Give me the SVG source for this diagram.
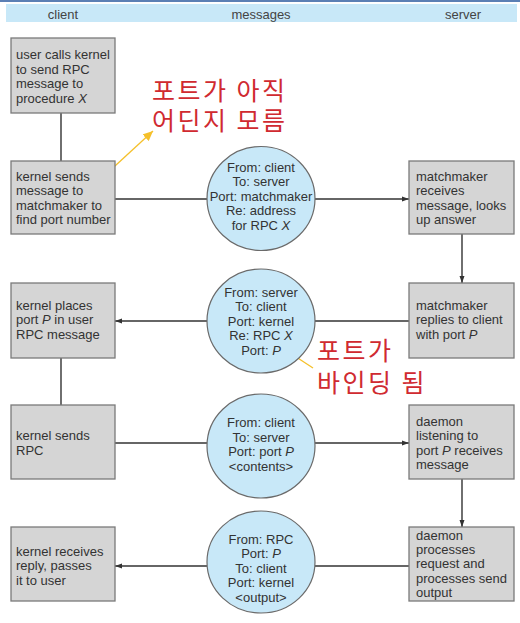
<svg xmlns="http://www.w3.org/2000/svg" width="520" height="623" viewBox="0 0 520 623">
<style>
.box{fill:#d5d5d5;stroke:#7a7a7a;stroke-width:1.3}
.msg{fill:#c8e8f8;stroke:#6a6a6a;stroke-width:1.2}
.t{font-family:"Liberation Sans",Arial,sans-serif;font-size:13px;fill:#333}
.c{text-anchor:middle}
.h{font-family:"Liberation Sans",Arial,sans-serif;font-size:13px;fill:#444;text-anchor:middle}
.conn{stroke:#333;stroke-width:1.4;fill:none}
.note{font-family:"Noto Sans CJK KR","Noto Sans",sans-serif;font-size:25px;letter-spacing:2.5px;fill:#d02a30}
.ya{stroke:#f5c02a;stroke-width:1.3;fill:none}
.i{font-style:italic}
</style>
<defs>
<marker id="ah" markerWidth="8" markerHeight="6" refX="7" refY="3" orient="auto" markerUnits="userSpaceOnUse">
<path d="M0,0.5 L7,3 L0,5.5 Z" fill="#333"/>
</marker>
<marker id="yh" markerWidth="12" markerHeight="10" refX="10" refY="5" orient="auto" markerUnits="userSpaceOnUse">
<path d="M0,0.5 L10,5 L0,9.5 Z" fill="#f5c02a"/>
</marker>
</defs>
<rect x="0" y="0" width="520" height="623" fill="#fff"/>
<g id="header">
<rect x="0" y="0" width="520" height="2" fill="#5b7fb4"/>
<rect x="6" y="4" width="511" height="18" fill="#c8e8f8"/>
<text class="h" x="63" y="18.5">client</text>
<text class="h" x="261" y="18.5">messages</text>
<text class="h" x="463" y="18.5">server</text>
</g>
<g id="connectors">
<line class="conn" x1="61" y1="113" x2="61" y2="161"/>
<line class="conn" x1="115" y1="199" x2="207" y2="199"/>
<line class="conn" x1="315" y1="199" x2="409" y2="199" marker-end="url(#ah)"/>
<line class="conn" x1="462" y1="234" x2="462" y2="283" marker-end="url(#ah)"/>
<line class="conn" x1="409" y1="321" x2="315" y2="321"/>
<line class="conn" x1="207" y1="321" x2="115" y2="321" marker-end="url(#ah)"/>
<line class="conn" x1="61" y1="358" x2="61" y2="405"/>
<line class="conn" x1="115" y1="443" x2="207" y2="443"/>
<line class="conn" x1="315" y1="443" x2="409" y2="443" marker-end="url(#ah)"/>
<line class="conn" x1="462" y1="479" x2="462" y2="527" marker-end="url(#ah)"/>
<line class="conn" x1="409" y1="566" x2="315" y2="566"/>
<line class="conn" x1="207" y1="566" x2="115" y2="566" marker-end="url(#ah)"/>
<line class="ya" x1="103" y1="177" x2="153" y2="131" marker-end="url(#yh)"/>
<line class="ya" x1="313" y1="368" x2="284" y2="349" marker-end="url(#yh)"/>
</g>
<g id="n1">
<rect class="box" x="11" y="38" width="104" height="75"/>
<text class="t" x="16" y="59">user calls kernel</text>
<text class="t" x="16" y="73.7">to send RPC</text>
<text class="t" x="16" y="88.4">message to</text>
<text class="t" x="16" y="103">procedure <tspan class="i">X</tspan></text>
</g>
<g id="n2">
<rect class="box" x="11" y="161" width="104" height="73"/>
<text class="t" x="16" y="180.5">kernel sends</text>
<text class="t" x="16" y="195">message to</text>
<text class="t" x="16" y="209.5">matchmaker to</text>
<text class="t" x="16" y="224">find port number</text>
</g>
<g id="m1">
<ellipse class="msg" cx="261" cy="198.5" rx="54" ry="52"/>
<text class="t c" x="261" y="171.5">From: client</text>
<text class="t c" x="261" y="186">To: server</text>
<text class="t c" x="261" y="200.5">Port: matchmaker</text>
<text class="t c" x="261" y="214.5">Re: address</text>
<text class="t c" x="261" y="229.5">for RPC <tspan class="i">X</tspan></text>
</g>
<g id="n3">
<rect class="box" x="409" y="161" width="105" height="73"/>
<text class="t" x="416" y="180.5">matchmaker</text>
<text class="t" x="416" y="195">receives</text>
<text class="t" x="416" y="209.5">message, looks</text>
<text class="t" x="416" y="224">up answer</text>
</g>
<g id="n4">
<rect class="box" x="11" y="283" width="104" height="75"/>
<text class="t" x="16" y="309.5">kernel places</text>
<text class="t" x="16" y="324">port <tspan class="i">P</tspan> in user</text>
<text class="t" x="16" y="338.5">RPC message</text>
</g>
<g id="m2">
<ellipse class="msg" cx="261" cy="321" rx="54" ry="52"/>
<text class="t c" x="261" y="296.5">From: server</text>
<text class="t c" x="261" y="311">To: client</text>
<text class="t c" x="261" y="325.5">Port: kernel</text>
<text class="t c" x="261" y="339.5">Re: RPC <tspan class="i">X</tspan></text>
<text class="t c" x="261" y="354.5">Port: <tspan class="i">P</tspan></text>
</g>
<g id="n5">
<rect class="box" x="409" y="283" width="105" height="75"/>
<text class="t" x="416" y="309.5">matchmaker</text>
<text class="t" x="416" y="324">replies to client</text>
<text class="t" x="416" y="338.5">with port <tspan class="i">P</tspan></text>
</g>
<g id="n6">
<rect class="box" x="11" y="405" width="104" height="74"/>
<text class="t" x="16" y="439.5">kernel sends</text>
<text class="t" x="16" y="455">RPC</text>
</g>
<g id="m3">
<ellipse class="msg" cx="261" cy="446" rx="54" ry="52"/>
<text class="t c" x="261" y="426.5">From: client</text>
<text class="t c" x="261" y="441.5">To: server</text>
<text class="t c" x="261" y="455.5">Port: port <tspan class="i">P</tspan></text>
<text class="t c" x="261" y="470.5">&lt;contents&gt;</text>
</g>
<g id="n7">
<rect class="box" x="409" y="405" width="105" height="74"/>
<text class="t" x="416" y="425.5">daemon</text>
<text class="t" x="416" y="440">listening to</text>
<text class="t" x="416" y="454.5">port <tspan class="i">P</tspan> receives</text>
<text class="t" x="416" y="469">message</text>
</g>
<g id="n8">
<rect class="box" x="409" y="527" width="105" height="74"/>
<text class="t" x="416" y="539.5">daemon</text>
<text class="t" x="416" y="554">processes</text>
<text class="t" x="416" y="568">request and</text>
<text class="t" x="416" y="582.5">processes send</text>
<text class="t" x="416" y="597">output</text>
</g>
<g id="m4">
<ellipse class="msg" cx="261" cy="562" rx="54" ry="51"/>
<text class="t c" x="261" y="543.5">From: RPC</text>
<text class="t c" x="261" y="557.5">Port: <tspan class="i">P</tspan></text>
<text class="t c" x="261" y="572.5">To: client</text>
<text class="t c" x="261" y="586.5">Port: kernel</text>
<text class="t c" x="261" y="601.5">&lt;output&gt;</text>
</g>
<g id="n9">
<rect class="box" x="11" y="527" width="104" height="74"/>
<text class="t" x="16" y="555.5">kernel receives</text>
<text class="t" x="16" y="570">reply, passes</text>
<text class="t" x="16" y="584.5">it to user</text>
</g>
<g id="note1">
<text class="note" x="152" y="99.5">포트가 아직</text>
<text class="note" x="152" y="130">어딘지 모름</text>
</g>
<g id="note2">
<text class="note" x="317" y="360">포트가</text>
<text class="note" x="317" y="391.5">바인딩 됨</text>
</g>
</svg>
